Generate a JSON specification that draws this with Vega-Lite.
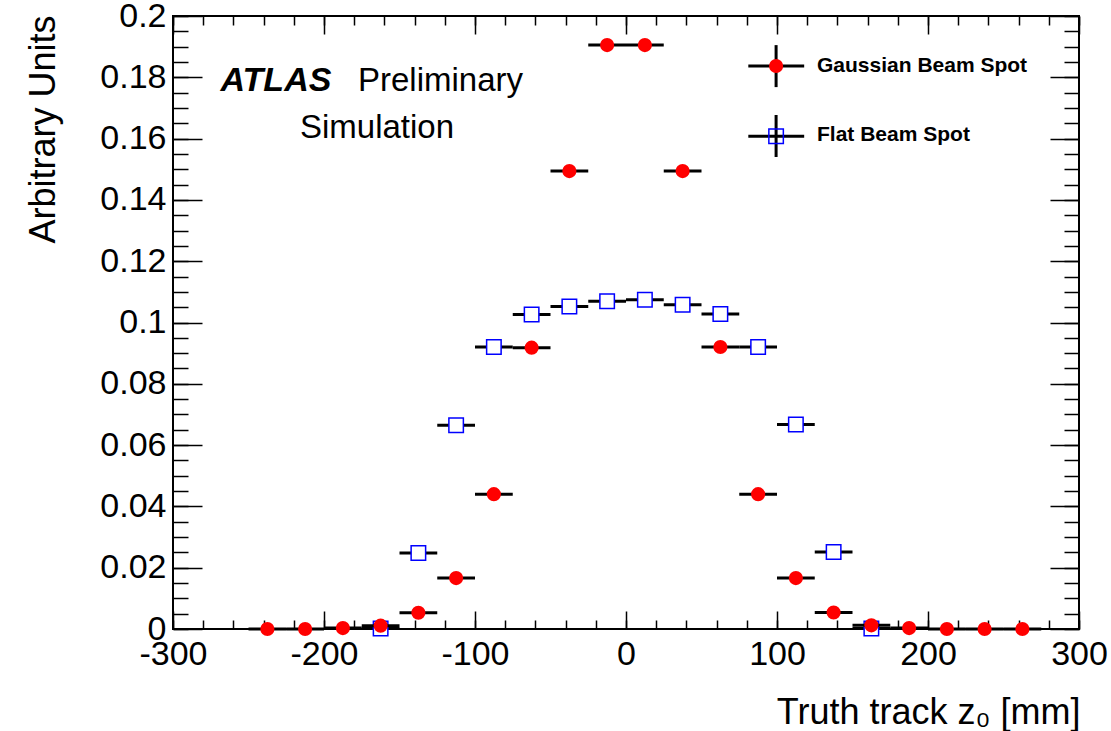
{
  "$schema": "https://vega.github.io/schema/vega-lite/v6.json",
  "width": 906,
  "height": 613,
  "autosize": "none",
  "padding": {"left": 173, "top": 16, "right": 32, "bottom": 102},
  "background": "white",
  "config": {
    "view": {"stroke": "black", "strokeWidth": 2},
    "font": "Liberation Sans",
    "axis": {
      "domain": false,
      "grid": false,
      "tickColor": "black",
      "tickWidth": 1.5,
      "labelColor": "black",
      "titleColor": "black",
      "labelFont": "Liberation Sans",
      "titleFont": "Liberation Sans",
      "labelFontSize": 34,
      "titleFontSize": 36,
      "titleFontWeight": "normal",
      "labelFontWeight": "normal",
      "labelOverlap": false,
      "labelFlush": false
    }
  },
  "datasets": {
    "hist": [
      {"series": "Flat", "lo": -175, "hi": -150, "z": -162.5, "v": 0.0002},
      {"series": "Flat", "lo": -150, "hi": -125, "z": -137.5, "v": 0.0248},
      {"series": "Flat", "lo": -125, "hi": -100, "z": -112.5, "v": 0.0665},
      {"series": "Flat", "lo": -100, "hi": -75, "z": -87.5, "v": 0.092},
      {"series": "Flat", "lo": -75, "hi": -50, "z": -62.5, "v": 0.1026},
      {"series": "Flat", "lo": -50, "hi": -25, "z": -37.5, "v": 0.1052},
      {"series": "Flat", "lo": -25, "hi": 0, "z": -12.5, "v": 0.1069},
      {"series": "Flat", "lo": 0, "hi": 25, "z": 12.5, "v": 0.1074},
      {"series": "Flat", "lo": 25, "hi": 50, "z": 37.5, "v": 0.1058},
      {"series": "Flat", "lo": 50, "hi": 75, "z": 62.5, "v": 0.1028},
      {"series": "Flat", "lo": 75, "hi": 100, "z": 87.5, "v": 0.092},
      {"series": "Flat", "lo": 100, "hi": 125, "z": 112.5, "v": 0.0667},
      {"series": "Flat", "lo": 125, "hi": 150, "z": 137.5, "v": 0.0251},
      {"series": "Flat", "lo": 150, "hi": 175, "z": 162.5, "v": 0.0002},
      {"series": "Gaussian", "lo": -250, "hi": -225, "z": -237.5, "v": 0},
      {"series": "Gaussian", "lo": -225, "hi": -200, "z": -212.5, "v": 0},
      {"series": "Gaussian", "lo": -200, "hi": -175, "z": -187.5, "v": 0.0003},
      {"series": "Gaussian", "lo": -175, "hi": -150, "z": -162.5, "v": 0.0011},
      {"series": "Gaussian", "lo": -150, "hi": -125, "z": -137.5, "v": 0.0053},
      {"series": "Gaussian", "lo": -125, "hi": -100, "z": -112.5, "v": 0.0166},
      {"series": "Gaussian", "lo": -100, "hi": -75, "z": -87.5, "v": 0.044},
      {"series": "Gaussian", "lo": -75, "hi": -50, "z": -62.5, "v": 0.0918},
      {"series": "Gaussian", "lo": -50, "hi": -25, "z": -37.5, "v": 0.1494},
      {"series": "Gaussian", "lo": -25, "hi": 0, "z": -12.5, "v": 0.1905},
      {"series": "Gaussian", "lo": 0, "hi": 25, "z": 12.5, "v": 0.1905},
      {"series": "Gaussian", "lo": 25, "hi": 50, "z": 37.5, "v": 0.1494},
      {"series": "Gaussian", "lo": 50, "hi": 75, "z": 62.5, "v": 0.092},
      {"series": "Gaussian", "lo": 75, "hi": 100, "z": 87.5, "v": 0.044},
      {"series": "Gaussian", "lo": 100, "hi": 125, "z": 112.5, "v": 0.0166},
      {"series": "Gaussian", "lo": 125, "hi": 150, "z": 137.5, "v": 0.0054},
      {"series": "Gaussian", "lo": 150, "hi": 175, "z": 162.5, "v": 0.0012},
      {"series": "Gaussian", "lo": 175, "hi": 200, "z": 187.5, "v": 0.0003},
      {"series": "Gaussian", "lo": 200, "hi": 225, "z": 212.5, "v": 0},
      {"series": "Gaussian", "lo": 225, "hi": 250, "z": 237.5, "v": 0},
      {"series": "Gaussian", "lo": 250, "hi": 275, "z": 262.5, "v": 0}
    ],
    "legendLines": [
      {"x": 81, "x2": 118, "y": 0.1837, "y2": 0.1837},
      {"x": 99.4, "x2": 99.4, "y": 0.1768, "y2": 0.1905},
      {"x": 81, "x2": 118, "y": 0.1608, "y2": 0.1608},
      {"x": 99.4, "x2": 99.4, "y": 0.154, "y2": 0.1677}
    ],
    "legendMarks": [
      {"series": "Gaussian", "x": 99.4, "y": 0.1837, "label": "Gaussian Beam Spot", "lx": 126.5, "ly": 0.1817},
      {"series": "Flat", "x": 99.4, "y": 0.1608, "label": "Flat Beam Spot", "lx": 126.5, "ly": 0.1592}
    ],
    "notes": [
      {"kind": "atlas", "x": -268.5, "y": 0.1754, "text": "ATLAS"},
      {"kind": "plain", "x": -177.5, "y": 0.1754, "text": "Preliminary"},
      {"kind": "plain", "x": -215.9, "y": 0.1602, "text": "Simulation"}
    ]
  },
  "layer": [
    {
      "data": {"name": "hist"},
      "transform": [{"filter": "datum.series === 'Flat'"}],
      "mark": {"type": "rule", "color": "black", "strokeWidth": 3},
      "encoding": {
        "x": {"field": "lo", "type": "quantitative", "scale": {"domain": [-300, 300], "nice": false, "zero": false},
          "axis": {"orient": "bottom", "values": [-300, -200, -100, 0, 100, 200, 300], "ticks": false, "labelPadding": 8,
            "labelExpr": "'' + datum.value", "title": "Truth track z₀ [mm]", "titleX": 907, "titleY": 94,
            "titleAlign": "right", "titleBaseline": "alphabetic"}},
        "x2": {"field": "hi"},
        "y": {"field": "v", "type": "quantitative", "scale": {"domain": [0, 0.2], "nice": false, "zero": false},
          "axis": {"orient": "left", "values": [0, 0.02, 0.04, 0.06, 0.08, 0.1, 0.12, 0.14, 0.16, 0.18, 0.2], "ticks": false,
            "labelPadding": 7, "labelExpr": "'' + datum.value", "title": "Arbitrary Units", "titleAngle": 270,
            "titleAlign": "right", "titleBaseline": "alphabetic", "titleX": -119, "titleY": -1}}
      }
    },
    {
      "data": {"name": "hist"},
      "transform": [{"filter": "datum.series === 'Flat'"}],
      "mark": {"type": "point", "shape": "square", "size": 210, "filled": false, "fill": "white", "fillOpacity": 1, "stroke": "#0000ff", "strokeWidth": 1.5, "opacity": 1},
      "encoding": {
        "x": {"field": "z", "type": "quantitative", "scale": {"domain": [-300, 300], "nice": false, "zero": false},
          "axis": {"orient": "bottom", "values": [-300, -200, -100, 0, 100, 200, 300], "labels": false, "tickSize": -18, "title": null}},
        "y": {"field": "v", "type": "quantitative", "scale": {"domain": [0, 0.2], "nice": false, "zero": false},
          "axis": {"orient": "left", "values": [0, 0.02, 0.04, 0.06, 0.08, 0.1, 0.12, 0.14, 0.16, 0.18, 0.2], "labels": false, "tickSize": -29, "title": null}}
      }
    },
    {
      "data": {"name": "hist"},
      "transform": [{"filter": "datum.series === 'Gaussian'"}],
      "mark": {"type": "rule", "color": "black", "strokeWidth": 3},
      "encoding": {
        "x": {"field": "lo", "type": "quantitative", "scale": {"domain": [-300, 300], "nice": false, "zero": false},
          "axis": {"orient": "bottom", "values": [-300, -280, -260, -240, -220, -200, -180, -160, -140, -120, -100, -80, -60, -40, -20, 0, 20, 40, 60, 80, 100, 120, 140, 160, 180, 200, 220, 240, 260, 280, 300], "labels": false, "tickSize": -9, "title": null}},
        "x2": {"field": "hi"},
        "y": {"field": "v", "type": "quantitative", "scale": {"domain": [0, 0.2], "nice": false, "zero": false},
          "axis": {"orient": "left", "values": [0, 0.005, 0.01, 0.015, 0.02, 0.025, 0.03, 0.035, 0.04, 0.045, 0.05, 0.055, 0.06, 0.065, 0.07, 0.075, 0.08, 0.085, 0.09, 0.095, 0.1, 0.105, 0.11, 0.115, 0.12, 0.125, 0.13, 0.135, 0.14, 0.145, 0.15, 0.155, 0.16, 0.165, 0.17, 0.175, 0.18, 0.185, 0.19, 0.195, 0.2], "labels": false, "tickSize": -15, "title": null}}
      }
    },
    {
      "data": {"name": "hist"},
      "transform": [{"filter": "datum.series === 'Gaussian'"}],
      "mark": {"type": "circle", "size": 200, "color": "#ff0000", "opacity": 1},
      "encoding": {
        "x": {"field": "z", "type": "quantitative", "scale": {"domain": [-300, 300], "nice": false, "zero": false},
          "axis": {"orient": "top", "values": [-300, -200, -100, 0, 100, 200, 300], "labels": false, "tickSize": -18, "title": null}},
        "y": {"field": "v", "type": "quantitative", "scale": {"domain": [0, 0.2], "nice": false, "zero": false},
          "axis": {"orient": "right", "values": [0, 0.02, 0.04, 0.06, 0.08, 0.1, 0.12, 0.14, 0.16, 0.18, 0.2], "labels": false, "tickSize": -29, "title": null}}
      }
    },
    {
      "data": {"name": "legendLines"},
      "mark": {"type": "rule", "color": "black", "strokeWidth": 3},
      "encoding": {
        "x": {"field": "x", "type": "quantitative", "scale": {"domain": [-300, 300], "nice": false, "zero": false},
          "axis": {"orient": "top", "values": [-300, -280, -260, -240, -220, -200, -180, -160, -140, -120, -100, -80, -60, -40, -20, 0, 20, 40, 60, 80, 100, 120, 140, 160, 180, 200, 220, 240, 260, 280, 300], "labels": false, "tickSize": -9, "title": null}},
        "x2": {"field": "x2"},
        "y": {"field": "y", "type": "quantitative", "scale": {"domain": [0, 0.2], "nice": false, "zero": false},
          "axis": {"orient": "right", "values": [0, 0.005, 0.01, 0.015, 0.02, 0.025, 0.03, 0.035, 0.04, 0.045, 0.05, 0.055, 0.06, 0.065, 0.07, 0.075, 0.08, 0.085, 0.09, 0.095, 0.1, 0.105, 0.11, 0.115, 0.12, 0.125, 0.13, 0.135, 0.14, 0.145, 0.15, 0.155, 0.16, 0.165, 0.17, 0.175, 0.18, 0.185, 0.19, 0.195, 0.2], "labels": false, "tickSize": -15, "title": null}},
        "y2": {"field": "y2"}
      }
    },
    {
      "data": {"name": "legendMarks"},
      "transform": [{"filter": "datum.series === 'Gaussian'"}],
      "mark": {"type": "circle", "size": 200, "color": "#ff0000", "opacity": 1},
      "encoding": {
        "x": {"field": "x", "type": "quantitative", "axis": null},
        "y": {"field": "y", "type": "quantitative", "axis": null}
      }
    },
    {
      "data": {"name": "legendMarks"},
      "transform": [{"filter": "datum.series === 'Flat'"}],
      "mark": {"type": "point", "shape": "square", "size": 210, "filled": false, "stroke": "#0000ff", "strokeWidth": 1.5, "opacity": 1},
      "encoding": {
        "x": {"field": "x", "type": "quantitative", "axis": null},
        "y": {"field": "y", "type": "quantitative", "axis": null}
      }
    },
    {
      "data": {"name": "legendMarks"},
      "mark": {"type": "text", "align": "left", "baseline": "alphabetic", "font": "Liberation Sans", "fontWeight": "bold", "fontSize": 21, "color": "black"},
      "encoding": {
        "x": {"field": "lx", "type": "quantitative", "axis": null},
        "y": {"field": "ly", "type": "quantitative", "axis": null},
        "text": {"field": "label"}
      }
    },
    {
      "data": {"name": "notes"},
      "transform": [{"filter": "datum.kind === 'atlas'"}],
      "mark": {"type": "text", "align": "left", "baseline": "alphabetic", "font": "Liberation Sans", "fontWeight": "bold", "fontStyle": "italic", "fontSize": 34, "color": "black"},
      "encoding": {
        "x": {"field": "x", "type": "quantitative", "axis": null},
        "y": {"field": "y", "type": "quantitative", "axis": null},
        "text": {"field": "text"}
      }
    },
    {
      "data": {"name": "notes"},
      "transform": [{"filter": "datum.kind === 'plain'"}],
      "mark": {"type": "text", "align": "left", "baseline": "alphabetic", "font": "Liberation Sans", "fontSize": 33, "color": "black"},
      "encoding": {
        "x": {"field": "x", "type": "quantitative", "axis": null},
        "y": {"field": "y", "type": "quantitative", "axis": null},
        "text": {"field": "text"}
      }
    }
  ],
  "resolve": {"axis": {"x": "independent", "y": "independent"}}
}
